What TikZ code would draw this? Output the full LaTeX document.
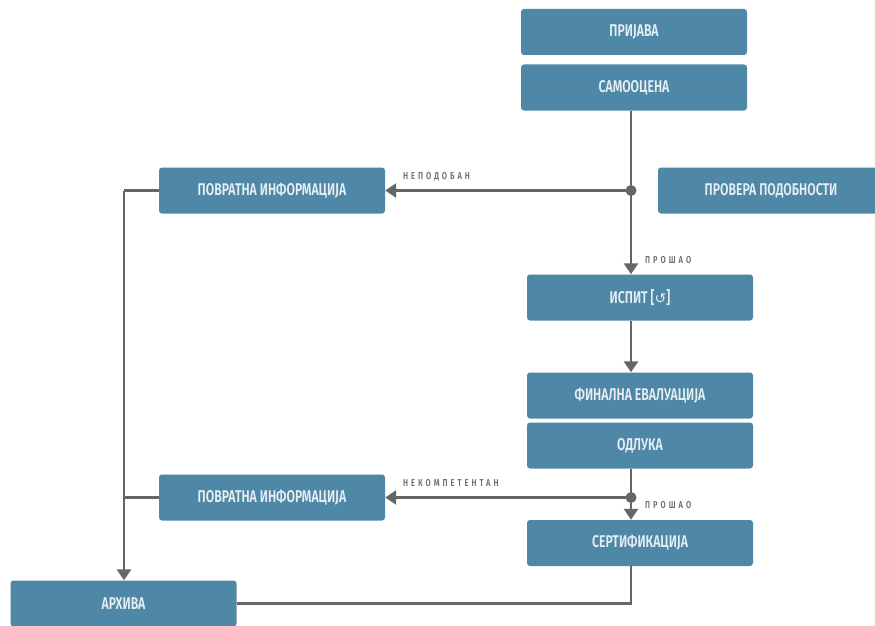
\documentclass[tikz,border=0pt]{standalone}
\usepackage{fontspec}
\usetikzlibrary{arrows.meta}
\newfontfamily\boxfontfam[FakeStretch=0.72]{Fira Sans SemiBold}
\newfontfamily\lblfontfam[FakeStretch=0.75,LetterSpace=30]{Fira Sans SemiBold}
\definecolor{boxblue}{HTML}{4F87A6}
\definecolor{boxtext}{HTML}{E6EEF3}
\definecolor{linegray}{HTML}{666666}
\definecolor{lblgray}{HTML}{6E6E6E}
\begin{document}
\begin{tikzpicture}[x=1pt,y=-1pt,
  box/.style={rectangle, rounded corners=3pt, fill=boxblue, minimum width=226pt, minimum height=46pt, inner sep=0pt, text=boxtext, font=\boxfontfam\fontsize{17}{19}\selectfont},
  conn/.style={draw=linegray, line width=2.8pt},
  arr/.style={conn, -{Triangle[width=14pt,length=11pt]}},
  dot/.style={circle, fill=linegray, minimum size=11pt, inner sep=0pt},
  lbl/.style={text=lblgray, inner sep=0pt, font=\lblfontfam\fontsize{10}{11}\selectfont}]
\useasboundingbox (0,0) rectangle (875,626);
\fill[white] (0,0) rectangle (875,626);
\node[box] (prijava) at (634,32) {ПРИЈАВА};
\node[box] (samo) at (634,87.5) {САМООЦЕНА};
\node[box] (provera) at (771,190.5) {ПРОВЕРА ПОДОБНОСТИ};
\node[box] (pov1) at (272,190.5) {ПОВРАТНА ИНФОРМАЦИЈА};
\node[box] (ispit) at (640,297.5) {ИСПИТ [{\fontspec{DejaVu Sans}\fontsize{14}{16}\selectfont ↺}]};
\node[box] (final) at (640,395.5) {ФИНАЛНА ЕВАЛУАЦИЈА};
\node[box] (odluka) at (640,445.5) {ОДЛУКА};
\node[box] (pov2) at (272,497.5) {ПОВРАТНА ИНФОРМАЦИЈА};
\node[box] (sert) at (640,543) {СЕРТИФИКАЦИЈА};
\node[box] (arhiva) at (123.5,603.5) {АРХИВА};
\coordinate (j1) at (631,190.5);
\coordinate (j2) at (631,497.5);
\coordinate (c1) at (124,190.5);
\draw[conn] (samo.south -| j1) -- (j1);
\draw[arr] (j1) -- (ispit.north -| j1);
\draw[arr] (j1) -- (pov1.east);
\node[dot] (d1) at (j1) {};
\draw[arr] (ispit.south -| j1) -- (final.north -| j1);
\draw[conn] (odluka.south -| j2) -- (j2);
\draw[arr] (j2) -- (sert.north -| j2);
\draw[arr] (j2) -- (pov2.east);
\node[dot] (d2) at (j2) {};
\draw[conn] (pov1.west) -- (c1);
\draw[arr] (c1) -- (arhiva.north -| c1);
\draw[conn] (pov2.west) -- (pov2.west -| c1);
\draw[conn] (sert.south -| j2) |- (arhiva.east);
\node[lbl, anchor=south west] (l1) at (403,181) {НЕПОДОБАН};
\node[lbl, anchor=west] (l2) at (645,260) {ПРОШАО};
\node[lbl, anchor=south west] (l3) at (403,487) {НЕКОМПЕТЕНТАН};
\node[lbl, anchor=west] (l4) at (645,505) {ПРОШАО};
\end{tikzpicture}
\end{document}
